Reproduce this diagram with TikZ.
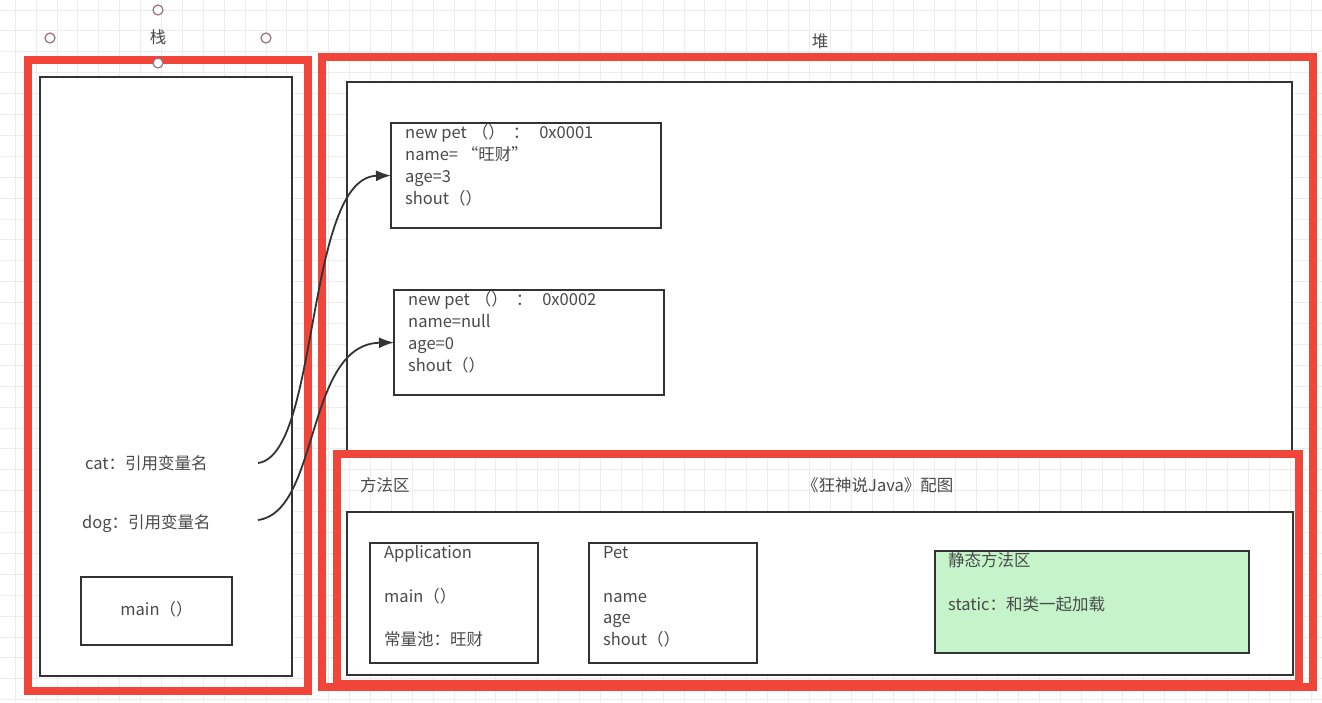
\documentclass[tikz,border=0pt]{standalone}
\usepackage{fontspec}
\setmainfont{Noto Sans CJK SC}
\usetikzlibrary{arrows.meta}
\definecolor{redb}{HTML}{F2453A}
\definecolor{txtc}{HTML}{4A4A4A}
\definecolor{gridc}{HTML}{ECECEC}
\definecolor{greenf}{HTML}{C5F4CA}
\definecolor{handlec}{HTML}{9A7080}
\definecolor{linec}{HTML}{333333}
\begin{document}
\begin{tikzpicture}[x=1pt,y=-1pt,
  redbox/.style={draw=redb,line width=8pt,inner sep=0pt,outer sep=0pt},
  blackbox/.style={draw=linec,line width=1.8pt,fill=white,inner sep=0pt,outer sep=0pt},
  txt/.style={text=txtc,font=\fontsize{16.5}{19}\selectfont,inner sep=0pt,text height=12pt,text depth=3pt,anchor=west},
  handle/.style={circle,draw=handlec,line width=1.2pt,fill=white,minimum size=10pt,inner sep=0pt},
  ptr/.style={draw=linec,line width=1.8pt,-{Latex[length=15pt,width=11pt]}}
]
\fill[white] (0,0) rectangle (1322,702);
\useasboundingbox (0,0) rectangle (1322,702);
% grid
\foreach \i in {0,...,63} \draw[gridc,line width=1pt] ({15.2+20.9*\i},0) -- ++(0,702);
\foreach \j in {0,...,33} \draw[gridc,line width=1pt] (0,{10+20.9*\j}) -- ++(1322,0);

% stack
\node[blackbox,minimum width=252pt,minimum height=599pt] (stackin) at (166,376.5) {};
\node[redbox,minimum width=280pt,minimum height=631pt] (stack) at (167.5,375.5) {};
\node[txt,anchor=center] (stacklbl) at (158,39) {栈};
\node[handle] (h1) at (158,10) {};
\node[handle] (h2) at (50,38) {};
\node[handle] (h3) at (266,38) {};
\node[handle] (h4) at (158,63) {};

% heap
\node[blackbox,minimum width=945pt,minimum height=371pt] (heapin) at (819.5,267.5) {};
\node[redbox,minimum width=991.5pt,minimum height=630pt] (heap) at (817.25,372) {};
\node[txt,anchor=center] (heaplbl) at (820,43) {堆};

% method area
\node[redbox,minimum width=962.5pt,minimum height=230.5pt] (method) at (817.75,568.75) {};
\node[blackbox,minimum width=946pt,minimum height=163pt] (methodin) at (820,593.5) {};
\node[txt] (methodlbl) at (360,487) {方法区};
\node[txt] (credit) at (802,487) {《狂神说Java》配图};

% objects
\node[blackbox,minimum width=270pt,minimum height=105pt] (obj1) at (526,175.5) {};
\node[txt] (o1a) at (405,134) {new pet\hspace{5pt}（）\hspace{8pt}：\hspace{10pt}0x0001};
\node[txt] (o1b) at (405,156) {name= “旺财”};
\node[txt] (o1c) at (405,178) {age=3};
\node[txt] (o1d) at (405,200) {shout（）};

\node[blackbox,minimum width=270pt,minimum height=105pt] (obj2) at (529,342.5) {};
\node[txt] (o2a) at (408,301) {new pet\hspace{5pt}（）\hspace{8pt}：\hspace{10pt}0x0002};
\node[txt] (o2b) at (408,323) {name=null};
\node[txt] (o2c) at (408,345) {age=0};
\node[txt] (o2d) at (408,367) {shout（）};

% classes
\node[blackbox,minimum width=168pt,minimum height=120pt] (app) at (454,603) {};
\node[txt] (a1) at (384,554) {Application};
\node[txt] (a2) at (384,598) {main（）};
\node[txt] (a3) at (384,641) {常量池：旺财};

\node[blackbox,minimum width=168pt,minimum height=120pt] (pet) at (673,603) {};
\node[txt] (p1) at (603,554) {Pet};
\node[txt] (p2) at (603,598) {name};
\node[txt] (p3) at (603,619) {age};
\node[txt] (p4) at (603,641) {shout（）};

\node[blackbox,fill=greenf,minimum width=314pt,minimum height=102pt] (static) at (1092,602) {};
\node[txt] (s1) at (948,562) {静态方法区};
\node[txt] (s2) at (948,606) {static：和类一起加载};

% stack contents
\node[blackbox,minimum width=151pt,minimum height=68pt] (mainbox) at (156.5,611) {};
\node[txt,anchor=center] (mainlbl) at (mainbox.center) {main（）};
\node[txt] (cat) at (85,465) {cat：引用变量名};
\node[txt] (dog) at (82,524) {dog：引用变量名};

\coordinate (catend) at (258,463);
\coordinate (dogend) at (258,520);
\draw[ptr] (catend) .. controls (320,455) and (305,177) .. (obj1.west);
\draw[ptr] (dogend) .. controls (320,512) and (305,344) .. (obj2.west);
\end{tikzpicture}
\end{document}
